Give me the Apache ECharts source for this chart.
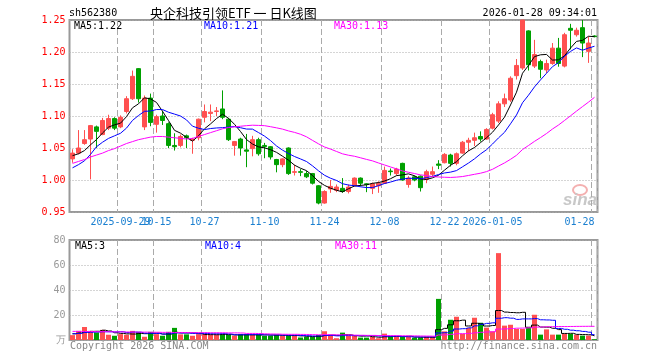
<!DOCTYPE html>
<html><head><meta charset="utf-8">
<script src="https://cdn.jsdelivr.net/npm/echarts@6/dist/echarts.min.js"></script>
<style>html,body{margin:0;padding:0;background:#fff}#c{width:660px;height:360px}</style>
</head><body><div id="c"></div>
<script>
const dates = ['2025-09-17','2025-09-18','2025-09-19','2025-09-22','2025-09-23','2025-09-24','2025-09-25','2025-09-26','2025-09-29','2025-09-30','2025-10-09','2025-10-10','2025-10-13','2025-10-14','2025-10-15','2025-10-16','2025-10-17','2025-10-20','2025-10-21','2025-10-22','2025-10-23','2025-10-24','2025-10-27','2025-10-28','2025-10-29','2025-10-30','2025-10-31','2025-11-03','2025-11-04','2025-11-05','2025-11-06','2025-11-07','2025-11-10','2025-11-11','2025-11-12','2025-11-13','2025-11-14','2025-11-17','2025-11-18','2025-11-19','2025-11-20','2025-11-21','2025-11-24','2025-11-25','2025-11-26','2025-11-27','2025-11-28','2025-12-01','2025-12-02','2025-12-03','2025-12-04','2025-12-05','2025-12-08','2025-12-09','2025-12-10','2025-12-11','2025-12-12','2025-12-15','2025-12-16','2025-12-17','2025-12-18','2025-12-19','2025-12-22','2025-12-23','2025-12-24','2025-12-25','2025-12-26','2025-12-29','2025-12-30','2025-12-31','2026-01-05','2026-01-06','2026-01-07','2026-01-08','2026-01-09','2026-01-12','2026-01-13','2026-01-14','2026-01-15','2026-01-16','2026-01-19','2026-01-20','2026-01-21','2026-01-22','2026-01-23','2026-01-26','2026-01-27','2026-01-28'];

const openP  = [1.033,1.042,1.057,1.064,1.083,1.071,1.081,1.096,1.083,1.107, 1.127,1.174,1.083,1.128,1.087,1.100,1.088,1.054,1.054,1.069, 1.062,1.066,1.098,1.104,1.107,1.111,1.095,1.054,1.064,1.047, 1.049,1.063,1.054,1.052,1.032,1.024,1.050,1.012,1.013,1.010, 1.010,0.991,0.964,0.986,0.984,0.987,0.982,0.991,1.003,0.994, 0.987,0.991,0.995,1.014,1.010,1.026,0.993,1.005,1.006,1.001, 1.009,1.025,1.027,1.039,1.026,1.042,1.059,1.062,1.068,1.064, 1.081,1.092,1.119,1.125,1.163,1.175,1.233,1.178,1.185,1.172, 1.182,1.206,1.178,1.237,1.227,1.238,1.201,1.225];
const closeP = [1.042,1.050,1.063,1.085,1.076,1.093,1.096,1.081,1.098,1.127, 1.162,1.127,1.128,1.090,1.099,1.093,1.054,1.052,1.068,1.066, 1.064,1.095,1.107,1.106,1.108,1.098,1.063,1.060,1.050,1.045, 1.063,1.041,1.052,1.036,1.024,1.033,1.010,1.013,1.012,1.005, 0.995,0.964,0.982,0.990,0.989,0.982,0.989,1.003,0.995,0.993, 0.994,0.995,1.015,1.013,1.017,1.000,1.003,1.000,0.988,1.013, 1.013,1.023,1.040,1.026,1.041,1.059,1.062,1.066,1.064,1.079, 1.102,1.119,1.127,1.159,1.179,1.250,1.180,1.196,1.173,1.182, 1.206,1.182,1.227,1.234,1.234,1.214,1.214,1.224];
const lowP   = [1.027,1.040,1.055,1.001,1.050,1.070,1.078,1.078,1.081,1.104, 1.125,1.121,1.078,1.084,1.074,1.086,1.050,1.046,1.051,1.050, 1.041,1.062,1.090,1.092,1.100,1.095,1.061,1.038,1.038,1.020, 1.037,1.038,1.034,1.032,1.012,1.020,1.008,1.007,1.006,1.003, 0.993,0.962,0.963,0.980,0.981,0.980,0.979,0.990,0.990,0.981, 0.978,0.980,0.994,1.007,1.007,0.999,0.988,0.998,0.982,0.995, 1.006,1.017,1.026,1.021,1.023,1.041,1.045,1.053,1.060,1.063, 1.079,1.089,1.114,1.122,1.157,1.172,1.171,1.175,1.159,1.167, 1.180,1.177,1.176,1.204,1.224,1.192,1.183,1.223];
const highP  = [1.048,1.078,1.078,1.086,1.085,1.097,1.102,1.098,1.101,1.131, 1.171,1.175,1.132,1.135,1.102,1.108,1.090,1.073,1.071,1.071, 1.066,1.096,1.118,1.118,1.114,1.140,1.097,1.061,1.066,1.072, 1.069,1.066,1.058,1.053,1.033,1.034,1.051,1.024,1.017,1.014, 1.011,0.992,0.984,1.000,0.993,1.003,0.993,1.004,1.004,0.995, 0.996,0.998,1.021,1.018,1.019,1.027,1.006,1.007,1.007,1.016, 1.021,1.031,1.042,1.041,1.043,1.061,1.066,1.074,1.076,1.081, 1.105,1.123,1.135,1.162,1.189,1.250,1.234,1.219,1.188,1.188, 1.214,1.222,1.230,1.244,1.238,1.250,1.224,1.226];
const volume = [3.9,7.3,10.4,7.3,6.0,8.1,4.2,3.4,4.7,4.2, 7.3,6.5,2.6,6.5,4.7,3.4,6.5,9.7,4.5,4.5, 3.4,4.7,4.7,4.2,4.2,4.5,4.0,3.4,4.5,4.5, 4.2,4.2,3.4,3.4,4.2,3.4,3.4,3.4,2.0,2.5, 2.5,4.0,7.0,3.5,1.4,5.9,3.2,3.2,1.9,1.9, 2.7,1.4,5.1,2.7,2.4,2.4,2.4,1.9,1.9,2.4, 2.4,32.9,6.9,16.2,18.6,4.8,9.6,17.8,13.8,9.9, 6.9,69.5,11.5,12.2,8.8,8.8,9.6,20.2,4.3,8.5, 4.3,4.3,4.8,4.8,4.3,3.5,3.5,0.6];

// moving-average values for the first days (their history lies before the window)
const ma5Head  = [1.038,1.041,1.046,1.055];
const ma10Head = [1.019,1.024,1.030,1.040,1.052,1.059,1.065,1.069,1.073];
const ma30Head = [1.026,1.029,1.032,1.036,1.039,1.042,1.046,1.049,1.053,1.057,1.060,1.063,1.065,1.067,1.068,1.068,1.067,1.066,1.065,1.064,1.065,1.068,1.071,1.074,1.077,1.080,1.082,1.083,1.084];
const vol5Head  = [5.0,5.6,6.5,6.9];
const vol10Head = [5.0,5.3,6.0,6.2,6.4,6.6,6.6,6.5,6.6];
const vol30Head = [6.9,6.9,6.8,6.8,6.7,6.7,6.6,6.5,6.5,6.4,6.4,6.3,6.3,6.2,6.2,6.1,6.1,6.0,6.0,6.0,5.9,5.9,5.9,5.8,5.8,5.8,5.7,5.7,5.6];

const tickDates = ['2025-09-29','2025-10-15','2025-10-27','2025-11-10','2025-11-24','2025-12-08','2025-12-22','2026-01-05','2026-01-28'];
const tickTexts = ['2025-09-29','10-15','10-27','11-10','11-24','12-08','12-22','2026-01-05','01-28'];
const priceTicks = [0.95,1.00,1.05,1.10,1.15,1.20,1.25];

const headerCode = 'sh562380';
const headerTitle = '央企科技引领ETF 一 日K线图';
const headerTime = '2026-01-28 09:34:01';
const priceMaText = ['MA5:1.22','MA10:1.21','MA30:1.13'];
const volMaText = ['MA5:3','MA10:4','MA30:11'];

function movingAvg(vals, n, head) {
  return vals.map((v, i) => {
    if (i < head.length) return head[i];
    let s = 0; for (let k = i - n + 1; k <= i; k++) s += vals[k];
    return +(s / n).toFixed(4);
  });
}

const UP = '#ff5050', DOWN = '#00a000';
const tickIdx = tickDates.map(d => dates.indexOf(d));
const kData = dates.map((d, i) => [openP[i], closeP[i], lowP[i], highP[i]]);
const volData = volume.map((v, i) => ({value: v, itemStyle: {color: closeP[i] >= openP[i] ? UP : DOWN}}));
const MONO = 'DejaVu Sans Mono';

const chart = echarts.init(document.getElementById('c'), null, {renderer: 'canvas'});
const vSplit = {show: true, interval: (i) => tickIdx.indexOf(i) >= 0, lineStyle: {color: '#aaa', type: [6, 3], width: 1}};
const hSplit = {show: true, lineStyle: {color: '#aaa', type: [1, 2], width: 1}};
const labelBase = {show: true, hideOverlap: false, margin: 5, color: '#1a7fd0', fontFamily: MONO, fontSize: 10,
  formatter: (v) => { const k = tickDates.indexOf(v); return k >= 0 ? tickTexts[k] : ''; }};

function txt(x, y, s, fill, font, align) {
  return {type: 'text', x: x, y: y, silent: true, style: {text: s, fill: fill, font: font, textAlign: align || 'left', textVerticalAlign: 'middle', align: align || 'left', verticalAlign: 'middle'}};
}

chart.setOption({
  animation: false,
  backgroundColor: '#fff',
  grid: [
    {left: 69.5, top: 20, width: 528, height: 192, show: true, borderColor: '#999', borderWidth: 2, backgroundColor: 'transparent'},
    {left: 69.5, top: 240, width: 528, height: 100, show: true, borderColor: '#999', borderWidth: 2, backgroundColor: 'transparent'}
  ],
  xAxis: [
    {type: 'category', gridIndex: 0, data: dates, boundaryGap: true,
     axisLine: {show: false}, axisTick: {show: false}, splitLine: vSplit,
     axisLabel: Object.assign({}, labelBase, {interval: (i) => i !== tickIdx[0] && tickIdx.indexOf(i) >= 0, alignMaxLabel: 'right'})},
    {type: 'category', gridIndex: 1, data: dates, boundaryGap: true,
     axisLine: {show: false}, axisTick: {show: false}, splitLine: vSplit, axisLabel: {show: false}},
    {type: 'category', gridIndex: 0, data: dates, boundaryGap: true, position: 'bottom', offset: 0,
     axisLine: {show: false}, axisTick: {show: false}, splitLine: {show: false},
     axisLabel: Object.assign({}, labelBase, {interval: (i) => i === tickIdx[0]})}
  ],
  yAxis: [
    {type: 'value', gridIndex: 0, min: priceTicks[0], max: priceTicks[priceTicks.length-1], interval: 0.05,
     axisLine: {show: false}, axisTick: {show: false}, splitLine: hSplit,
     axisLabel: {color: '#ff0000', fontFamily: MONO, fontSize: 10, margin: 4, formatter: v => v.toFixed(2)}},
    {type: 'value', gridIndex: 1, min: 0, max: 80, interval: 20,
     axisLine: {show: false}, axisTick: {show: false}, splitLine: hSplit,
     axisLabel: {color: '#999', fontFamily: MONO, fontSize: 10, margin: 4, formatter: v => v === 0 ? '万' : String(v)}}
  ],
  series: [
    {type: 'candlestick', xAxisIndex: 0, yAxisIndex: 0, data: kData, barWidth: 5,
     itemStyle: {color: UP, color0: DOWN, borderColor: UP, borderColor0: DOWN, borderWidth: 1}},
    {type: 'line', xAxisIndex: 0, yAxisIndex: 0, data: movingAvg(closeP, 5, ma5Head), showSymbol: false, symbol: 'none', lineStyle: {color: '#000', width: 1}, silent: true},
    {type: 'line', xAxisIndex: 0, yAxisIndex: 0, data: movingAvg(closeP, 10, ma10Head), showSymbol: false, symbol: 'none', lineStyle: {color: '#0000ff', width: 1}, silent: true},
    {type: 'line', xAxisIndex: 0, yAxisIndex: 0, data: movingAvg(closeP, 30, ma30Head), showSymbol: false, symbol: 'none', lineStyle: {color: '#ff00ff', width: 1}, silent: true},
    {type: 'bar', xAxisIndex: 1, yAxisIndex: 1, data: volData, barWidth: 5},
    {type: 'line', xAxisIndex: 1, yAxisIndex: 1, data: movingAvg(volume, 5, vol5Head), step: 'middle', showSymbol: false, symbol: 'none', lineStyle: {color: '#000', width: 1}, silent: true},
    {type: 'line', xAxisIndex: 1, yAxisIndex: 1, data: movingAvg(volume, 10, vol10Head), step: 'middle', showSymbol: false, symbol: 'none', lineStyle: {color: '#0000ff', width: 1}, silent: true},
    {type: 'line', xAxisIndex: 1, yAxisIndex: 1, data: movingAvg(volume, 30, vol30Head), step: 'middle', showSymbol: false, symbol: 'none', lineStyle: {color: '#ff00ff', width: 1}, silent: true}
  ],
  graphic: [
    txt(69, 13, headerCode, '#000', '10px ' + MONO),
    txt(150, 13, headerTitle, '#000', '13px "Noto Sans CJK SC"'),
    txt(597, 13, headerTime, '#000', '10px ' + MONO, 'right'),
    txt(74, 26, priceMaText[0], '#000', '10px ' + MONO),
    txt(204, 26, priceMaText[1], '#0000ff', '10px ' + MONO),
    txt(334, 26, priceMaText[2], '#ff00ff', '10px ' + MONO),
    txt(75, 246, volMaText[0], '#000', '10px ' + MONO),
    txt(205, 246, volMaText[1], '#0000ff', '10px ' + MONO),
    txt(335, 246, volMaText[2], '#ff00ff', '10px ' + MONO),
    txt(70, 346, 'Copyright 2026 SINA.COM', '#888', '10px ' + MONO),
    txt(597, 346, 'http://finance.sina.com.cn', '#888', '10px ' + MONO, 'right'),
    {type: 'ellipse', shape: {cx: 580, cy: 190, rx: 7, ry: 5}, silent: true, style: {fill: 'none', stroke: '#f4b0b0', lineWidth: 2}},
    txt(597, 200, 'sina', '#c8c8c8', 'italic bold 17px "Liberation Sans"', 'right')
  ]
});
</script></body></html>
